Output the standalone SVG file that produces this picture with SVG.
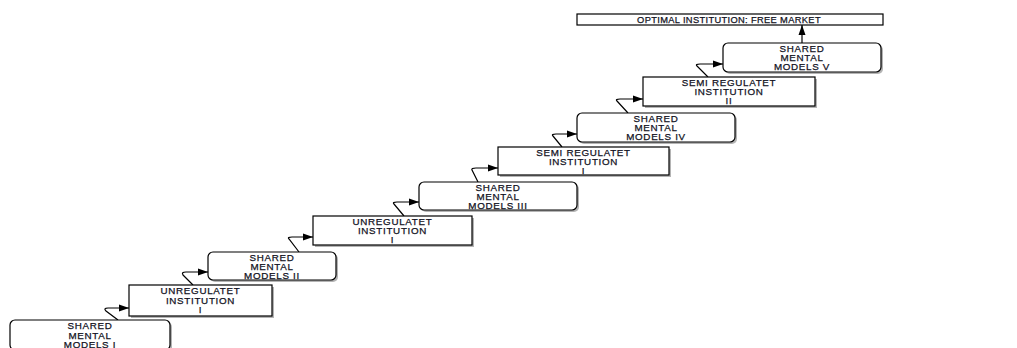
<svg xmlns="http://www.w3.org/2000/svg" width="1017" height="348" viewBox="0 0 1017 348">
<defs>
<marker id="ah" markerWidth="11" markerHeight="9" refX="10" refY="4.5" orient="auto" markerUnits="userSpaceOnUse">
<path d="M0,1 L10,4.5 L0,8 Z" fill="#000"/>
</marker>
<style>
.box{fill:#fff;stroke:#000;stroke-width:1.2}
.sh{fill:#777;opacity:0.55}
.t{font-family:"Liberation Sans",Arial,sans-serif;font-size:9.8px;fill:#111122;stroke:#111122;stroke-width:0.25;text-anchor:middle;letter-spacing:0.7px}
.tt{font-size:9.3px;letter-spacing:0.35px}
.c{fill:none;stroke:#000;stroke-width:1.2}
</style>
</defs>
<rect width="1017" height="348" fill="#fff"/>
<g id="connectors">
<path class="c" d="M118,320 L106,311 Q103,308 108,308 L129,308" marker-end="url(#ah)"/>
<path class="c" d="M193,285 L183,275 Q181,272 186,272 L208,272" marker-end="url(#ah)"/>
<path class="c" d="M299,252 L289,239 Q287,237 292,237 L313,237" marker-end="url(#ah)"/>
<path class="c" d="M404,216 L394,204 Q392,202 397,202 L419,202" marker-end="url(#ah)"/>
<path class="c" d="M478,182 L472,170 Q471,168 476,168 L498,168" marker-end="url(#ah)"/>
<path class="c" d="M562,147 L553,136 Q551,134 556,134 L577,134" marker-end="url(#ah)"/>
<path class="c" d="M628,113 L617,101 Q615,99 620,99 L643,99" marker-end="url(#ah)"/>
<path class="c" d="M708,77 L697,66 Q695,64 700,64 L723,64" marker-end="url(#ah)"/>
<path class="c" d="M802,43 L802,25" marker-end="url(#ah)"/>
</g>
<g id="n1">
<rect class="sh" x="12" y="322" width="160" height="30" rx="5"/>
<rect class="box" x="10" y="320" width="160" height="30" rx="5"/>
<text class="t" x="90" y="329">SHARED</text>
<text class="t" x="90" y="338.5">MENTAL</text>
<text class="t" x="90" y="348">MODELS I</text>
</g>
<g id="n2">
<rect class="sh" x="131" y="287" width="143" height="31"/>
<rect class="box" x="129" y="285" width="143" height="31"/>
<text class="t" x="200.5" y="294">UNREGULATET</text>
<text class="t" x="200.5" y="303.5">INSTITUTION</text>
<text class="t" x="200.5" y="313">I</text>
</g>
<g id="n3">
<rect class="sh" x="210" y="254" width="128" height="28" rx="5"/>
<rect class="box" x="208" y="252" width="128" height="28" rx="5"/>
<text class="t" x="272" y="260.5">SHARED</text>
<text class="t" x="272" y="269.5">MENTAL</text>
<text class="t" x="272" y="278.5">MODELS II</text>
</g>
<g id="n4">
<rect class="sh" x="315" y="218" width="159" height="29"/>
<rect class="box" x="313" y="216" width="159" height="29"/>
<text class="t" x="392.5" y="224.5">UNREGULATET</text>
<text class="t" x="392.5" y="233.5">INSTITUTION</text>
<text class="t" x="392.5" y="242.5">I</text>
</g>
<g id="n5">
<rect class="sh" x="421" y="184" width="158" height="28" rx="5"/>
<rect class="box" x="419" y="182" width="158" height="28" rx="5"/>
<text class="t" x="498" y="190.5">SHARED</text>
<text class="t" x="498" y="199.5">MENTAL</text>
<text class="t" x="498" y="208.5">MODELS III</text>
</g>
<g id="n6">
<rect class="sh" x="500" y="149" width="171" height="28"/>
<rect class="box" x="498" y="147" width="171" height="28"/>
<text class="t" x="583.5" y="155.5">SEMI REGULATET</text>
<text class="t" x="583.5" y="164.5">INSTITUTION</text>
<text class="t" x="583.5" y="173.5">I</text>
</g>
<g id="n7">
<rect class="sh" x="579" y="115" width="158" height="29" rx="5"/>
<rect class="box" x="577" y="113" width="158" height="29" rx="5"/>
<text class="t" x="656" y="121.5">SHARED</text>
<text class="t" x="656" y="130.5">MENTAL</text>
<text class="t" x="656" y="139.5">MODELS IV</text>
</g>
<g id="n8">
<rect class="sh" x="645" y="79" width="172" height="29"/>
<rect class="box" x="643" y="77" width="172" height="29"/>
<text class="t" x="729" y="85.5">SEMI REGULATET</text>
<text class="t" x="729" y="94.5">INSTITUTION</text>
<text class="t" x="729" y="103.5">II</text>
</g>
<g id="n9">
<rect class="sh" x="725" y="45" width="158" height="29" rx="5"/>
<rect class="box" x="723" y="43" width="158" height="29" rx="5"/>
<text class="t" x="802" y="51.5">SHARED</text>
<text class="t" x="802" y="60.5">MENTAL</text>
<text class="t" x="802" y="69.5">MODELS V</text>
</g>
<g id="n10">
<rect class="box" x="577" y="14" width="306" height="11"/>
<text class="t tt" x="729" y="23">OPTIMAL INSTITUTION: FREE MARKET</text>
</g>
</svg>
